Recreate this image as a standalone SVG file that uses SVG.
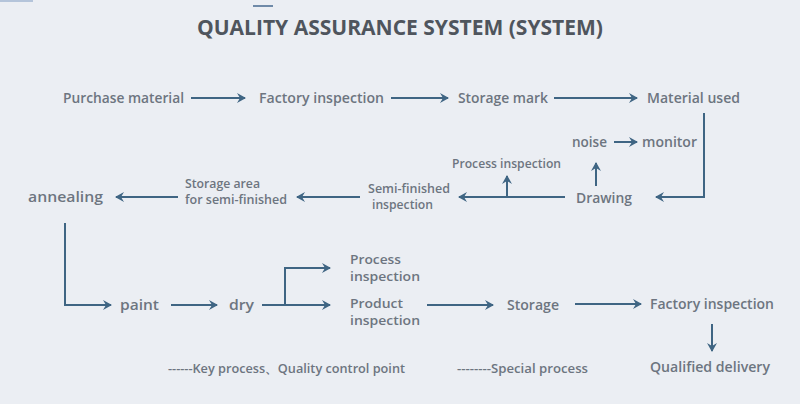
<svg xmlns="http://www.w3.org/2000/svg" width="800" height="404" viewBox="0 0 800 404">
<style>
.t{font-family:"Open Sans","Liberation Sans",sans-serif;font-weight:600;fill:#6d7580;font-size:14px}
.s{font-size:12px}
.title{font-family:"Open Sans","Liberation Sans",sans-serif;font-weight:700;fill:#4f555d;font-size:21px}
.c{fill:none;stroke:#3f6583;stroke-width:2}
.a{marker-end:url(#ah)}
</style>
<defs>
<marker id="ah" markerUnits="userSpaceOnUse" markerWidth="12" markerHeight="12" refX="8" refY="5" orient="auto">
<path d="M0,0 L9,5 L0,10 L3,5 z" fill="#3f6583"/>
</marker>
</defs>
<rect width="800" height="404" fill="#ebeef3"/>
<rect x="0" y="0" width="33" height="2" fill="#b4c4da"/>
<rect x="253" y="5" width="20" height="2" fill="#6f8aa8"/>
<text class="title" x="400" y="35" text-anchor="middle" textLength="406" lengthAdjust="spacingAndGlyphs">QUALITY ASSURANCE SYSTEM (SYSTEM)</text>

<g id="connectors">
<line class="c a" x1="191" y1="98" x2="245" y2="98"/>
<line class="c a" x1="391" y1="98" x2="448" y2="98"/>
<line class="c a" x1="554" y1="98" x2="637" y2="98"/>
<polyline class="c a" points="704,113 704,197 656,197"/>
<line class="c a" x1="614" y1="142" x2="637" y2="142"/>
<line class="c a" x1="596" y1="186" x2="596" y2="163"/>
<line class="c a" x1="565" y1="197" x2="459" y2="197"/>
<line class="c a" x1="507" y1="197" x2="507" y2="176"/>
<line class="c a" x1="360" y1="197" x2="297" y2="197"/>
<line class="c a" x1="178" y1="197" x2="116" y2="197"/>
<polyline class="c a" points="65,223 65,305 111,305"/>
<line class="c a" x1="171" y1="305" x2="217" y2="305"/>
<line class="c a" x1="262" y1="305" x2="330" y2="305"/>
<polyline class="c a" points="285,305 285,268 330,268"/>
<line class="c a" x1="427" y1="305" x2="493" y2="305"/>
<line class="c a" x1="575" y1="304" x2="641" y2="304"/>
<line class="c a" x1="712" y1="324" x2="712" y2="351"/>
</g>

<g id="n-purchase"><text class="t" x="63" y="103" textLength="121" lengthAdjust="spacingAndGlyphs">Purchase material</text></g>
<g id="n-factory1"><text class="t" x="259" y="103" textLength="125" lengthAdjust="spacingAndGlyphs">Factory inspection</text></g>
<g id="n-storagemark"><text class="t" x="458" y="103" textLength="90" lengthAdjust="spacingAndGlyphs">Storage mark</text></g>
<g id="n-material"><text class="t" x="647" y="103" textLength="93" lengthAdjust="spacingAndGlyphs">Material used</text></g>
<g id="n-noise"><text class="t" x="572" y="147" textLength="35" lengthAdjust="spacingAndGlyphs">noise</text></g>
<g id="n-monitor"><text class="t" x="642" y="147" textLength="55" lengthAdjust="spacingAndGlyphs">monitor</text></g>
<g id="n-drawing"><text class="t" x="576" y="203" textLength="56" lengthAdjust="spacingAndGlyphs">Drawing</text></g>
<g id="n-procinsp1"><text class="t s" x="452" y="168" textLength="109" lengthAdjust="spacingAndGlyphs">Process inspection</text></g>
<g id="n-semi"><text class="t s" x="368" y="193" textLength="82" lengthAdjust="spacingAndGlyphs">Semi-finished</text><text class="t s" x="372" y="209" textLength="61" lengthAdjust="spacingAndGlyphs">inspection</text></g>
<g id="n-storagearea"><text class="t s" x="185" y="188" textLength="75" lengthAdjust="spacingAndGlyphs">Storage area</text><text class="t s" x="185" y="204" textLength="102" lengthAdjust="spacingAndGlyphs">for semi-finished</text></g>
<g id="n-annealing"><text class="t" x="28" y="202" font-size="15" textLength="75" lengthAdjust="spacingAndGlyphs">annealing</text></g>
<g id="n-paint"><text class="t" x="120" y="310" textLength="39" lengthAdjust="spacingAndGlyphs">paint</text></g>
<g id="n-dry"><text class="t" x="229" y="310" textLength="25" lengthAdjust="spacingAndGlyphs">dry</text></g>
<g id="n-procinsp2"><text class="t s" x="350" y="264" font-size="13" textLength="51" lengthAdjust="spacingAndGlyphs">Process</text><text class="t s" x="350" y="281" font-size="13" textLength="70" lengthAdjust="spacingAndGlyphs">inspection</text></g>
<g id="n-prodinsp"><text class="t s" x="350" y="308" font-size="13" textLength="53" lengthAdjust="spacingAndGlyphs">Product</text><text class="t s" x="350" y="325" font-size="13" textLength="70" lengthAdjust="spacingAndGlyphs">inspection</text></g>
<g id="n-storage"><text class="t" x="507" y="310" textLength="52" lengthAdjust="spacingAndGlyphs">Storage</text></g>
<g id="n-factory2"><text class="t" x="650" y="309" textLength="124" lengthAdjust="spacingAndGlyphs">Factory inspection</text></g>
<g id="n-delivery"><text class="t" x="650" y="372" textLength="120" lengthAdjust="spacingAndGlyphs">Qualified delivery</text></g>
<g id="legend">
<text class="t s" x="168" y="373" textLength="237" lengthAdjust="spacingAndGlyphs">------Key process、Quality control point</text>
<text class="t s" x="457" y="373" textLength="131" lengthAdjust="spacingAndGlyphs">--------Special process</text>
</g>
</svg>
